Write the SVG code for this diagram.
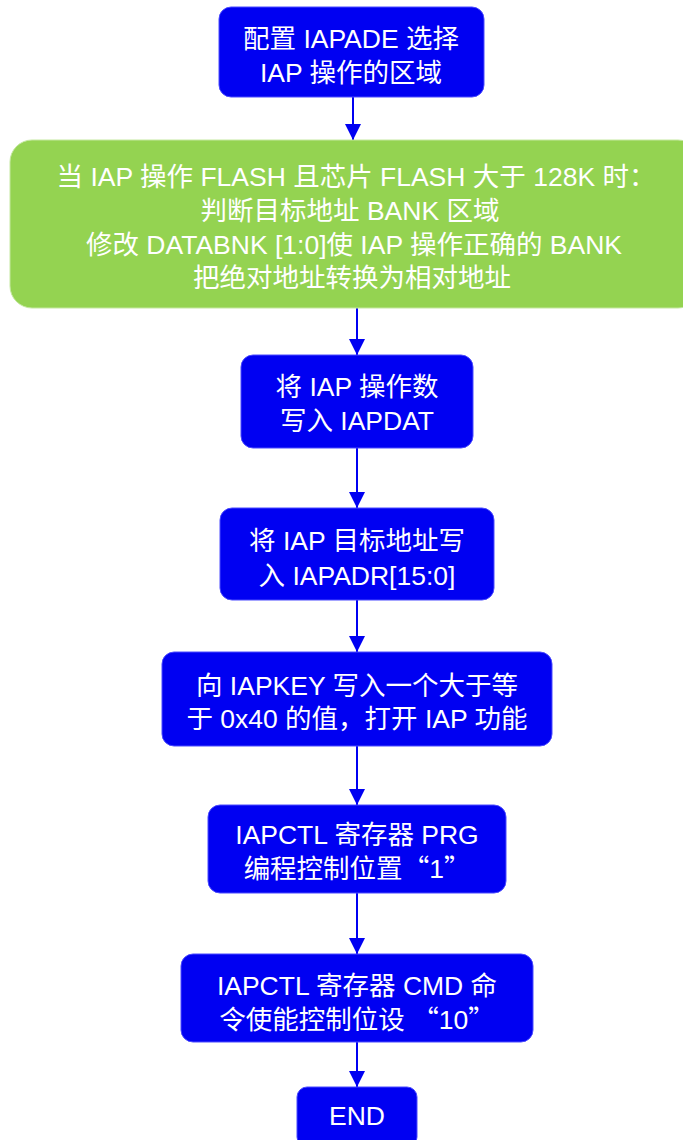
<svg xmlns="http://www.w3.org/2000/svg" width="683" height="1140" viewBox="0 0 683 1140">
<style>
.b{fill:#0000f2;stroke:#4a4aff;stroke-width:1}
.g{fill:#94d351;stroke:#c4e8a0;stroke-width:1}
.t{fill:#ffffff;font-family:"Liberation Sans","Noto Sans CJK SC",sans-serif;font-size:26.5px;text-anchor:middle}
.q{font-family:"Noto Sans CJK SC",sans-serif}
.c{stroke:#0000f2;stroke-width:2;fill:none;marker-end:url(#ah)}
</style>
<defs>
<marker id="ah" markerUnits="userSpaceOnUse" markerWidth="18" markerHeight="18" viewBox="0 0 18 18" refX="16" refY="9" orient="auto">
<path d="M0,1 L16,9 L0,17 Z" fill="#0000f2"/>
</marker>
</defs>
<rect width="683" height="1140" fill="#ffffff"/>
<g id="connectors">
<path class="c" d="M353,97 V140"/>
<path class="c" d="M357,308 V355"/>
<path class="c" d="M357,448 V508"/>
<path class="c" d="M357,600 V652"/>
<path class="c" d="M357,746 V805"/>
<path class="c" d="M357,893 V954"/>
<path class="c" d="M357,1042 V1087"/>
</g>
<g id="n1">
<rect class="b" x="219" y="7" width="265" height="90" rx="12"/>
<text class="t" x="351" y="48">配置 IAPADE 选择</text>
<text class="t" x="351" y="82">IAP 操作的区域</text>
</g>
<g id="n2">
<rect class="g" x="10" y="140" width="690" height="168" rx="22"/>
<text class="t" x="356" y="186">当 IAP 操作 FLASH 且芯片 FLASH 大于 128K 时<tspan class="q">：</tspan></text>
<text class="t" x="350" y="220">判断目标地址 BANK 区域</text>
<text class="t" x="354" y="254">修改 DATABNK [1:0]使 IAP 操作正确的 BANK</text>
<text class="t" x="352" y="287">把绝对地址转换为相对地址</text>
</g>
<g id="n3">
<rect class="b" x="241" y="355" width="232" height="93" rx="12"/>
<text class="t" x="357" y="396">将 IAP 操作数</text>
<text class="t" x="357" y="430">写入 IAPDAT</text>
</g>
<g id="n4">
<rect class="b" x="220" y="508" width="274" height="92" rx="12"/>
<text class="t" x="357" y="550">将 IAP 目标地址写</text>
<text class="t" x="357" y="585">入 IAPADR[15:0]</text>
</g>
<g id="n5">
<rect class="b" x="162" y="652" width="390" height="94" rx="12"/>
<text class="t" x="357" y="695">向 IAPKEY 写入一个大于等</text>
<text class="t" x="357" y="728">于 0x40 的值，打开 IAP 功能</text>
</g>
<g id="n6">
<rect class="b" x="208" y="805" width="298" height="88" rx="12"/>
<text class="t" x="357" y="844">IAPCTL 寄存器 PRG</text>
<text class="t" x="357" y="878">编程控制位置<tspan class="q">“</tspan>1<tspan class="q">”</tspan></text>
</g>
<g id="n7">
<rect class="b" x="181" y="954" width="352" height="88" rx="12"/>
<text class="t" x="357" y="995">IAPCTL 寄存器 CMD 命</text>
<text class="t" x="357" y="1029">令使能控制位设 <tspan class="q">“</tspan>10<tspan class="q">”</tspan></text>
</g>
<g id="n8">
<rect class="b" x="297" y="1087" width="120" height="60" rx="10"/>
<text class="t" x="357" y="1125">END</text>
</g>
</svg>
